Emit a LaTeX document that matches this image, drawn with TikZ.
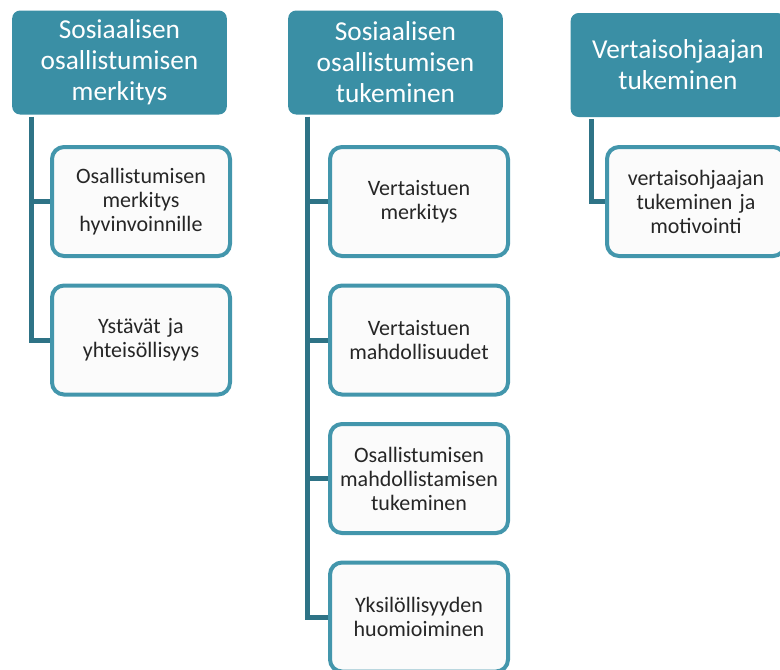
\documentclass[tikz,border=0pt]{standalone}
\usepackage{fontspec}
\setmainfont{Carlito}
\usepackage{xcolor}
\usetikzlibrary{positioning}
\definecolor{headteal}{HTML}{3A8FA5}
\definecolor{lineteal}{HTML}{2E7386}
\definecolor{boxteal}{HTML}{4396AC}
\definecolor{subtext}{HTML}{262626}
\tikzset{
    treenode/.style = {align=center, inner sep=0pt, text centered},
    head_node/.style = {treenode, rectangle, rounded corners=6pt, text=white, fill=headteal, text width=150pt, minimum width=161pt, minimum height=78pt, font=\fontsize{20.5}{23.3}\selectfont},
    sub_node/.style = {treenode, rectangle, rounded corners=9pt, text=subtext, draw=boxteal, line width=3pt, fill=white!98.5!black, text width=127pt, minimum width=133.5pt, minimum height=81.75pt, font=\fontsize{16.5}{18}\selectfont},
    link/.style = {draw=lineteal, line width=3.75pt}
}

\begin{document}
\begin{tikzpicture}[x=0.75pt, y=-0.75pt]
    \useasboundingbox (0,0) rectangle (780,669);
    \clip (0,0) rectangle (780,669);
    % headers
    \node [head_node] (h1) at (119.5,62.5) {Sosiaalisen\\osallistumisen\\merkitys};
    \node [head_node] (h2) at (395.5,62.5) {Sosiaalisen\\osallistumisen\\tukeminen};
    \node [head_node] (h3) at (678,65) {Vertaisohjaajan\\tukeminen};
    % connectors
    \draw [link] ([xshift=15pt,yshift=-1.5pt]h1.south west) |- (141,340);
    \draw [link] ([xshift=15pt,yshift=-1.5pt]h1.south west) |- (141,201.5);
    \draw [link] ([xshift=15pt,yshift=-1.5pt]h2.south west) |- (419,617);
    \foreach \y in {201.5,340,478.5}
        \draw [link] ([xshift=15pt,yshift=-1.5pt]h2.south west) |- (419,\y);
    \draw [link] ([xshift=15.75pt,yshift=-1.5pt]h3.south west) |- (696,201.5);
    % children
    \node [sub_node] (c1a) at (141,201.5) {Osallistumisen\\merkitys\\hyvinvoinnille};
    \node [sub_node] (c1b) at (141,340) {Ystävät ja\\yhteisöllisyys};
    \node [sub_node] (c2a) at (419,201.5) {Vertaistuen\\merkitys};
    \node [sub_node] (c2b) at (419,340) {Vertaistuen\\mahdollisuudet};
    \node [sub_node] (c2c) at (419,478.5) {Osallistumisen\\mahdollistamisen\\tukeminen};
    \node [sub_node] (c2d) at (419,617) {Yksilöllisyyden\\huomioiminen};
    \node [sub_node] (c3a) at (696,201.5) {vertaisohjaajan\\tukeminen\ ja\\motivointi};
\end{tikzpicture}
\end{document}
